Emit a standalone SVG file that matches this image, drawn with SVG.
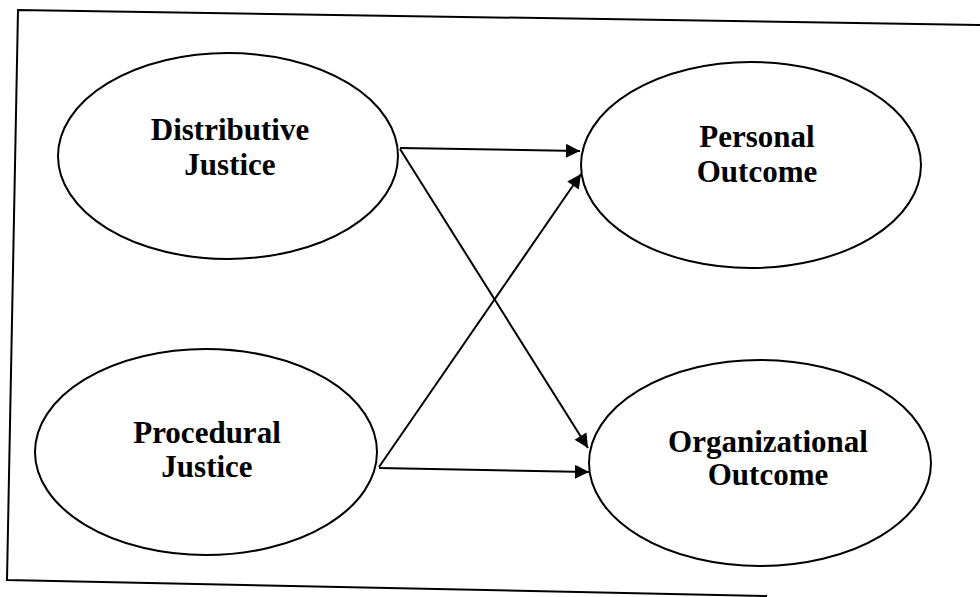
<svg xmlns="http://www.w3.org/2000/svg" width="980" height="597" viewBox="0 0 980 597">
<defs>
<marker id="arr" viewBox="0 0 10 10" refX="10" refY="5" markerWidth="8" markerHeight="7" markerUnits="strokeWidth" orient="auto">
<path d="M0,0 L10,5 L0,10 z" fill="#000"/>
</marker>
<style>
.node ellipse{fill:#fff;stroke:#000;stroke-width:2}
.node text{font-family:"Liberation Serif","Times New Roman",serif;font-weight:bold;font-size:31px;fill:#000;text-anchor:middle}
.conn line{stroke:#000;stroke-width:2;marker-end:url(#arr)}
.frame{fill:none;stroke:#000;stroke-width:2}
</style>
</defs>
<rect width="980" height="597" fill="#fff"/>
<polyline class="frame" points="982,25 18,10 7,580 767,596"/>
<g id="distributive" class="node">
<ellipse cx="228" cy="156" rx="170" ry="103"/>
<text x="230" y="140">Distributive</text>
<text x="230" y="175">Justice</text>
</g>
<g id="personal" class="node">
<ellipse cx="751" cy="165" rx="170" ry="103"/>
<text x="757" y="147">Personal</text>
<text x="757" y="182">Outcome</text>
</g>
<g id="procedural" class="node">
<ellipse cx="206" cy="452" rx="171" ry="103"/>
<text x="207" y="443">Procedural</text>
<text x="207" y="477">Justice</text>
</g>
<g id="organizational" class="node">
<ellipse cx="760" cy="463" rx="171" ry="103"/>
<text x="768" y="452">Organizational</text>
<text x="768" y="485">Outcome</text>
</g>
<g id="connectors" class="conn">
<line x1="400" y1="148" x2="580" y2="151"/>
<line x1="400" y1="149" x2="588" y2="448"/>
<line x1="379" y1="467" x2="581" y2="174"/>
<line x1="379" y1="468" x2="589" y2="472"/>
</g>
</svg>
